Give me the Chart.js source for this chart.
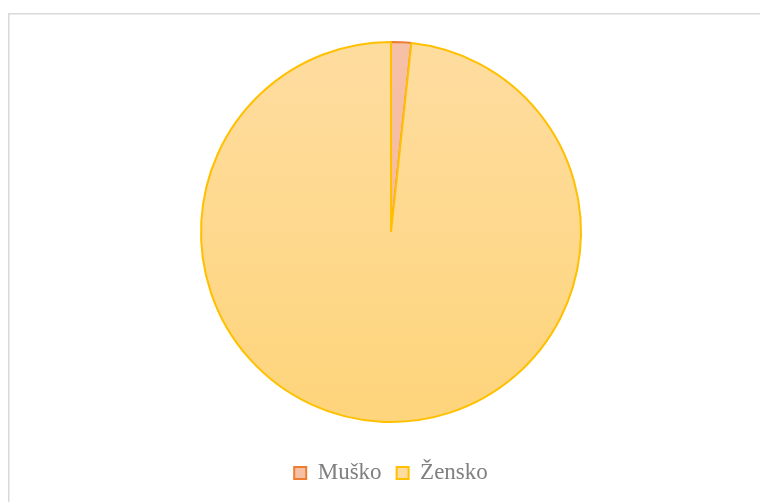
<!DOCTYPE html>
<html>
<head>
<meta charset="utf-8">
<script src="https://cdn.jsdelivr.net/npm/chart.js@4/dist/chart.umd.min.js"></script>
<style>
  html, body { margin: 0; padding: 0; background: #ffffff; }
  #wrap { position: relative; width: 760px; height: 502px; }
</style>
</head>
<body>
<div id="wrap"><canvas id="pieChart" width="760" height="502"></canvas></div>
<script>
// data
var categories = ['Muško', 'Žensko'];
var counts = [2, 115];

// colours (Excel style)
var borderColors = ['#ED7D31', '#FFC000'];
var fillTop = ['#F6C0A6', '#FEDC9E'];
var fillBottom = ['#F4B697', '#FED57D'];

// gradient fill for each slice, top to bottom of the chart area
function sliceFill(ctx) {
    var chart = ctx.chart;
    var area = chart.chartArea;
    if (!area) return fillTop[ctx.dataIndex];
    var g = chart.ctx.createLinearGradient(0, 60, 0, 400);
    g.addColorStop(0, fillTop[ctx.dataIndex]);
    g.addColorStop(1, fillBottom[ctx.dataIndex]);
    return g;
}

// thin grey frame like the spreadsheet chart box
var framePlugin = {
    id: 'frame',
    beforeDraw: function(chart) {
        var c = chart.ctx;
        c.save();
        c.strokeStyle = '#d9d9d9';
        c.lineWidth = 1.5;
        c.beginPath();
        c.moveTo(8.75, 502);
        c.lineTo(8.75, 13.75);
        c.lineTo(760, 13.75);
        c.stroke();
        c.restore();
    }
};

var chart1 = document.getElementById('pieChart');
var pieChart = new Chart(chart1, {
    type: 'pie',
    data: {
        labels: categories,
        datasets: [{
            data: counts,
            backgroundColor: sliceFill,
            borderColor: borderColors,
            borderWidth: 2
        }]
    },
    options: {
        responsive: false,
        animation: false,
        events: [],
        layout: {
            padding: { top: 17.5, left: 200, right: 178, bottom: 7.5 }
        },
        plugins: {
            tooltip: { enabled: false },
            legend: {
                display: true,
                position: 'bottom',
                labels: {
                    boxWidth: 12,
                    boxHeight: 12,
                    padding: 15,
                    color: '#7f7f7f',
                    font: { family: '"Liberation Serif", "Times New Roman", serif', size: 23 },
                    generateLabels: function(chart) {
                        return categories.map(function(name, i) {
                            return {
                                text: name,
                                fillStyle: fillTop[i],
                                strokeStyle: borderColors[i],
                                lineWidth: 2,
                                fontColor: '#7f7f7f',
                                hidden: false,
                                index: i
                            };
                        });
                    }
                }
            }
        }
    },
    plugins: [framePlugin]
});
</script>
</body>
</html>
